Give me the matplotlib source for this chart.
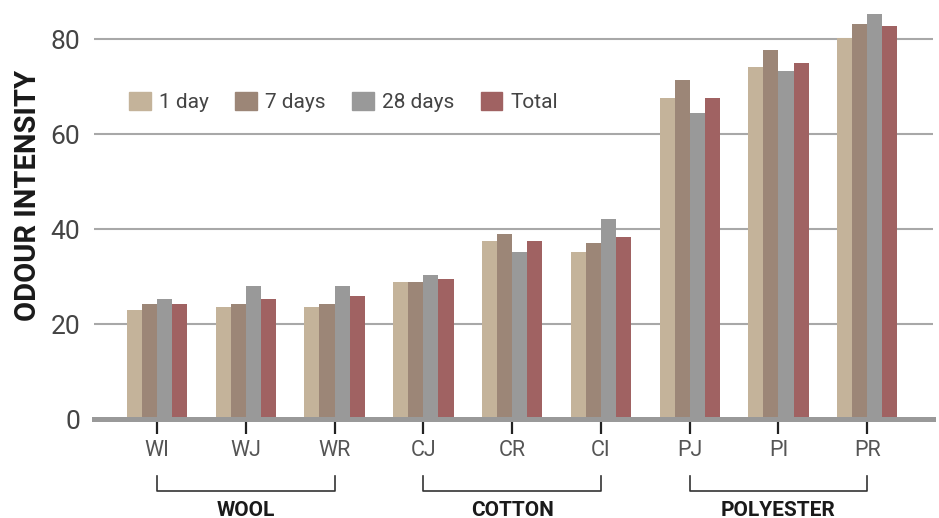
import numpy as np
import matplotlib
matplotlib.use("Agg")
import matplotlib.pyplot as plt
import matplotlib.transforms as mtransforms
from matplotlib.patches import Patch

plt.rcParams['font.family'] = ['Roboto', 'DejaVu Sans']

categories = ["WI", "WJ", "WR", "CJ", "CR", "CI", "PJ", "PI", "PR"]
series_names = ["1 day", "7 days", "28 days", "Total"]
day1 = [22.9, 23.6, 23.6, 28.8, 37.5, 35.2, 67.6, 74.1, 80.2]
day7 = [24.2, 24.2, 24.2, 28.8, 38.9, 37.1, 71.4, 77.7, 83.2]
day28 = [25.3, 28.0, 28.0, 30.3, 35.2, 42.1, 64.4, 73.3, 85.3]
total = [24.2, 25.3, 25.9, 29.5, 37.5, 38.3, 67.6, 74.9, 82.7]
groups = [("WOOL", 0, 2), ("COTTON", 3, 5), ("POLYESTER", 6, 8)]
colors = ["#c4b39a", "#9c8677", "#999999", "#a06262"]

fig = plt.figure(figsize=(9.39, 5.18), dpi=100)
ax = fig.add_axes([0.100, 0.191, 0.8936, 0.807])

x = np.arange(len(categories))
w = 0.17
for i, vals in enumerate([day1, day7, day28, total]):
    ax.bar(x + (i - 1.5) * w, vals, width=w, color=colors[i], zorder=3,
           label=series_names[i])

ax.set_xlim(-0.71, 8.74)
ax.set_ylim(0, 88)
ax.set_yticks([0, 20, 40, 60, 80])
ax.yaxis.grid(True, color="#a8a8a8", linewidth=1.5, zorder=0)
ax.set_axisbelow(True)

for s in ["top", "right", "left"]:
    ax.spines[s].set_visible(False)
ax.spines["bottom"].set_color("#999999")
ax.spines["bottom"].set_linewidth(3.6)
ax.spines["bottom"].set_zorder(4)

ax.tick_params(axis="y", length=0, pad=10, labelsize=19, labelcolor="#444444")
ax.tick_params(axis="x", length=11, width=1.6, color="#222222", pad=4,
               labelsize=15.5, labelcolor="#555555")
ax.set_xticks(x)
ax.set_xticklabels(categories)

ax.set_ylabel("ODOUR INTENSITY", fontsize=21, fontweight="bold", color="#1a1a1a")
ax.yaxis.set_label_coords(-0.062, 0.536)

# group brackets under the axis
trans = mtransforms.blended_transform_factory(ax.transData, ax.transAxes)
for name, a, b in groups:
    ax.plot([a, a, b, b], [-0.136, -0.172, -0.172, -0.136], transform=trans,
            color="#333333", linewidth=1.2, clip_on=False)
    ax.text((a + b) / 2, -0.218, name, transform=trans, ha="center", va="center",
            fontsize=15, fontweight="bold", color="#1a1a1a")

handles = [Patch(color=c) for c in colors]
ax.legend(handles, series_names, loc="center left", bbox_to_anchor=(0.042, 0.758),
          borderaxespad=0, borderpad=0, ncol=4, frameon=False, fontsize=15,
          handlelength=1.05, handleheight=0.95, handletextpad=0.4,
          columnspacing=1.25, labelcolor="#444444")

fig.savefig("out.png", dpi=100)
